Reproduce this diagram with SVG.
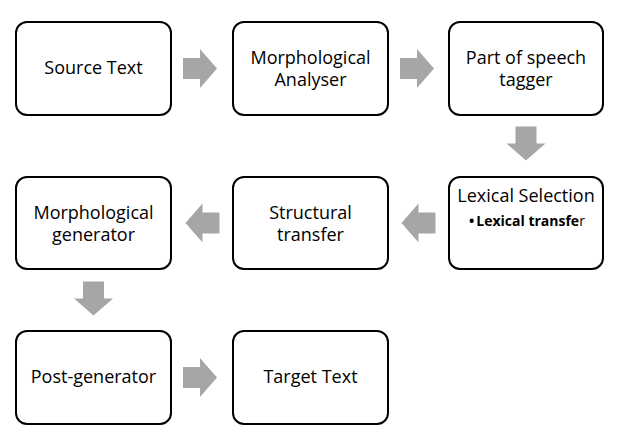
<svg xmlns="http://www.w3.org/2000/svg" xmlns:xlink="http://www.w3.org/1999/xlink" width="617" height="437" viewBox="0 0 617 437">
<style>
.box{fill:#fff;stroke:#000;stroke-width:2}
.t{font-family:"Open Sans","Liberation Sans",Arial,sans-serif;font-size:18px;fill:#000;text-anchor:middle}
.s{font-family:"Open Sans","Liberation Sans",Arial,sans-serif;font-size:14px;fill:#000}
.arr{fill:#a6a6a6}
</style>
<defs>
<path id="arrow" d="M-17,-10.5 H0 V-19.5 L17,0 L0,19.5 V10.5 H-17 Z"/>
</defs>
<rect width="617" height="437" fill="#fff"/>
<g id="connectors" class="arr">
<use xlink:href="#arrow" transform="translate(200,68.5)"/>
<use xlink:href="#arrow" transform="translate(417,68.5)"/>
<use xlink:href="#arrow" transform="translate(526,143.5) rotate(90)"/>
<use xlink:href="#arrow" transform="translate(418.5,223) rotate(180)"/>
<use xlink:href="#arrow" transform="translate(202.5,223) rotate(180)"/>
<use xlink:href="#arrow" transform="translate(93.5,298.5) rotate(90)"/>
<use xlink:href="#arrow" transform="translate(200,377.5)"/>
</g>
<g id="source-text">
<rect class="box" x="16" y="22" width="155" height="93" rx="11"/>
<text class="t" x="93.5" y="74">Source Text</text>
</g>
<g id="morphological-analyser">
<rect class="box" x="233" y="22" width="155" height="93" rx="11"/>
<text class="t" x="310.5" y="64">Morphological</text>
<text class="t" x="310.5" y="86">Analyser</text>
</g>
<g id="pos-tagger">
<rect class="box" x="449" y="22" width="154" height="93" rx="11"/>
<text class="t" x="526" y="64">Part of speech</text>
<text class="t" x="526" y="86">tagger</text>
</g>
<g id="lexical-selection">
<rect class="box" x="449" y="177" width="154" height="92" rx="11"/>
<text class="t" x="526" y="202">Lexical Selection</text>
<text class="s" x="469" y="226"><tspan font-weight="bold">•</tspan><tspan font-weight="bold" dx="2">Lexical transfe</tspan>r</text>
</g>
<g id="structural-transfer">
<rect class="box" x="233" y="177" width="155" height="92" rx="11"/>
<text class="t" x="310.5" y="218.5">Structural</text>
<text class="t" x="310.5" y="240.5">transfer</text>
</g>
<g id="morphological-generator">
<rect class="box" x="16" y="177" width="155" height="92" rx="11"/>
<text class="t" x="93.5" y="218.5">Morphological</text>
<text class="t" x="93.5" y="240.5">generator</text>
</g>
<g id="post-generator">
<rect class="box" x="16" y="331" width="155" height="93" rx="11"/>
<text class="t" x="93.5" y="383">Post-generator</text>
</g>
<g id="target-text">
<rect class="box" x="233" y="331" width="155" height="93" rx="11"/>
<text class="t" x="310.5" y="383">Target Text</text>
</g>
</svg>
